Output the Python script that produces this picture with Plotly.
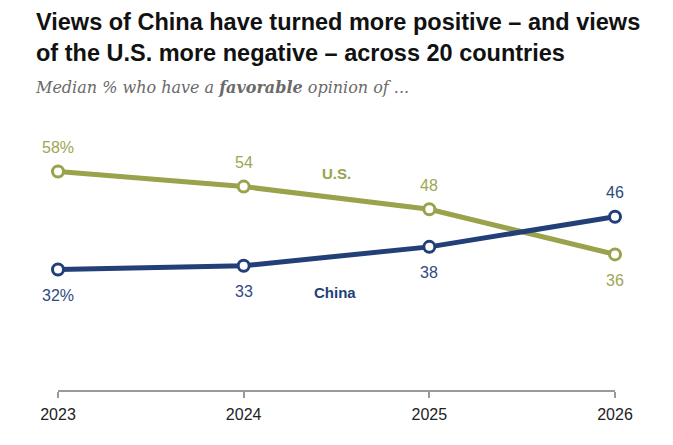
import plotly.graph_objects as go

years = [2023, 2024, 2025, 2026]
us_vals = [58, 54, 48, 36]
china_vals = [32, 33, 38, 46]
us_labels = ["58%", "54", "48", "36"]
china_labels = ["32%", "33", "38", "46"]
us_label_pos = ["above", "above", "above", "below"]
china_label_pos = ["below", "below", "below", "above"]

US_COLOR = "#9AA24B"
US_TEXT = "#9EA555"
CN_COLOR = "#233F78"
CN_TEXT = "#2D4B7E"

fig = go.Figure()
for vals, color in [(us_vals, US_COLOR), (china_vals, CN_COLOR)]:
    fig.add_trace(go.Scatter(
        x=years, y=vals, mode="lines+markers",
        line=dict(color=color, width=5),
        marker=dict(size=11, color="white", line=dict(color=color, width=3)),
        hoverinfo="skip", showlegend=False, cliponaxis=False,
    ))

annotations = []
for vals, labels, pos, col in [(us_vals, us_labels, us_label_pos, US_TEXT),
                               (china_vals, china_labels, china_label_pos, CN_TEXT)]:
    for x, y, t, p in zip(years, vals, labels, pos):
        annotations.append(dict(
            x=x, y=y, text=t, showarrow=False, xref="x", yref="y",
            yshift=24 if p == "above" else -26,
            font=dict(family="Liberation Sans, Arial", size=16, color=col),
        ))

annotations.append(dict(x=2024.5, y=58, text="<b>U.S.</b>", showarrow=False,
                        xref="x", yref="y", xanchor="center", yshift=-2,
                        font=dict(family="Liberation Sans, Arial", size=15, color="#9AA24B")))
annotations.append(dict(x=2024.49, y=26, text="<b>China</b>", showarrow=False,
                        xref="x", yref="y", xanchor="center", yshift=0,
                        font=dict(family="Liberation Sans, Arial", size=15, color="#233F78")))

fig.update_layout(
    width=673, height=445,
    margin=dict(l=58, r=58, t=164, b=55),
    paper_bgcolor="white", plot_bgcolor="white",
    xaxis=dict(range=[2023, 2026], tickvals=years, ticktext=[str(y) for y in years],
               showgrid=False, zeroline=False, showline=True, linecolor="#9a9a9a",
               linewidth=1.5, ticks="outside", ticklen=6, tickcolor="#9a9a9a",
               tickwidth=1.5, ticklabelstandoff=3,
               tickfont=dict(family="Liberation Sans, Arial", size=16, color="#222"),
               fixedrange=True),
    yaxis=dict(range=[0, 60], visible=False, fixedrange=True),
    annotations=annotations,
)

fig.add_annotation(
    xref="paper", yref="paper", x=(34 - 58) / 557, y=1 + (164 - 7) / 226,
    xanchor="left", yanchor="top", align="left", showarrow=False,
    text="<b>Views of China have turned more positive – and views<br>of the U.S. more negative – across 20 countries</b>",
    font=dict(family="Liberation Sans Narrow, Arial Narrow, Liberation Sans", size=23.5, color="#111"),
)
fig.add_annotation(
    xref="paper", yref="paper", x=(33 - 58) / 557, y=1 + (164 - 76) / 226,
    xanchor="left", yanchor="top", align="left", showarrow=False,
    text="<i>Median % who have a <b>favorable</b> opinion of ...</i>",
    font=dict(family="DejaVu Serif, Liberation Serif, serif", size=16, color="#6a6a6a"),
)

fig.write_html("out.html")
